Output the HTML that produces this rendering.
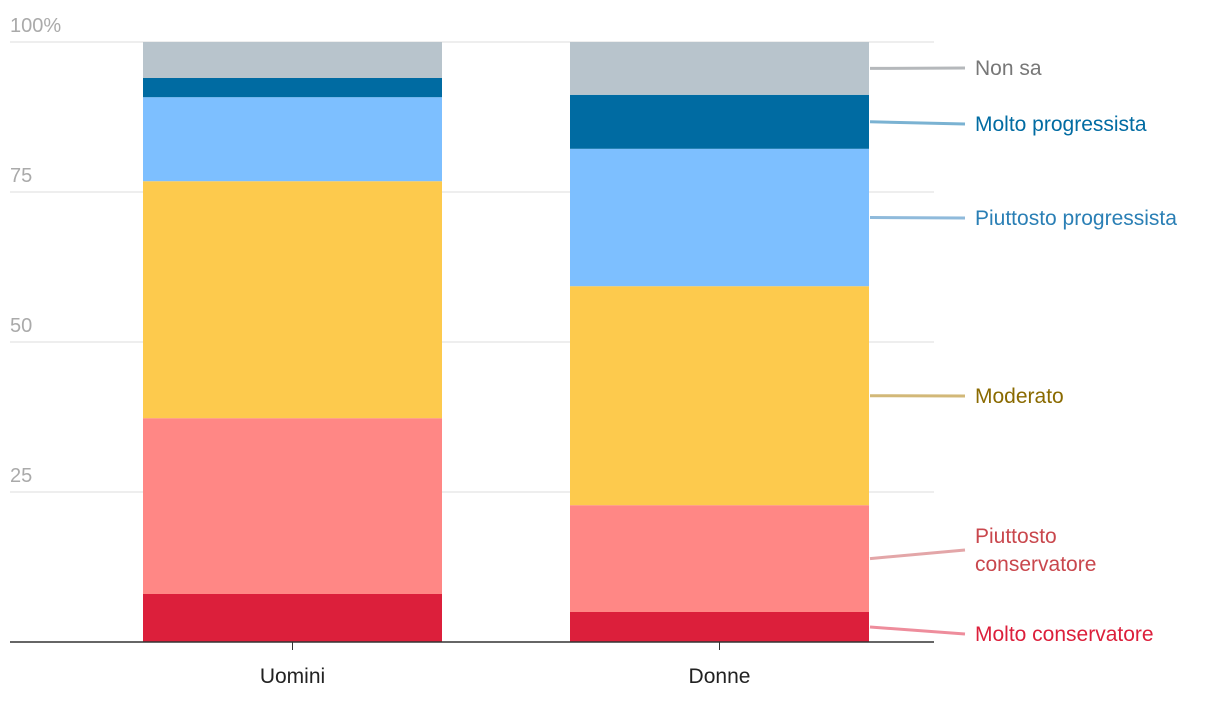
<!DOCTYPE html>
<html><head><meta charset="utf-8"><style>
body{margin:0;background:#fff;font-family:"Liberation Sans",sans-serif}
svg text{font-family:"Liberation Sans",sans-serif}
</style></head><body>
<svg id="chart" width="1220" height="706" xmlns="http://www.w3.org/2000/svg"></svg>
<script>
const categories=["Uomini","Donne"];
const seriesNames=["Molto conservatore","Piuttosto conservatore","Moderato","Piuttosto progressista","Molto progressista","Non sa"];
const molto_conservatore=[8,5];
const piuttosto_conservatore=[29.3,17.8];
const moderato=[39.5,36.5];
const piuttosto_progressista=[14,22.9];
const molto_progressista=[3.2,9];
const non_sa=[6,8.8];
const tickValues=[0,25,50,75,100];
const tickLabels=["","25","50","75","100%"];
const series=[molto_conservatore,piuttosto_conservatore,moderato,piuttosto_progressista,molto_progressista,non_sa];
const colors=["#dc1f3b","#ff8785","#fdca4d","#7dbfff","#006ba2","#b8c4cc"];
const lineColors=["#ee8d9c","#e3a6a8","#d2b878","#8fbadb","#7ab2d2","#b5b8bb"];
const labelColors=["#dc1f3b","#c9474d","#8a6a00","#2a7fb5","#006ba2","#777777"];
const labelY=[[634],[536,564],[396],[218],[124],[68]];
const svg=document.getElementById('chart');
const NS="http://www.w3.org/2000/svg";
const y=v=>642-v*6;
const barX=[143,570],barW=299;
function mk(t,a,p){const e=document.createElementNS(NS,t);for(const k in a)e.setAttribute(k,a[k]);(p||svg).appendChild(e);return e;}
tickValues.forEach((v,i)=>{
 if(v>0){const g=mk('line',{x1:10,x2:934,y1:y(v),y2:y(v),stroke:'#dddddd','stroke-width':1});
 
 }
 if(tickLabels[i]){const t=mk('text',{x:10,y:y(v)-10,fill:'#aaaaaa','font-size':20});t.textContent=tickLabels[i];
 
 }
});
categories.forEach((c,ci)=>{
 let base=0;
 series.forEach((s,si)=>{
  const v=s[ci];
  const r=mk('rect',{x:barX[ci],width:barW,y:y(base+v),height:v*6,fill:colors[si]});
  
  
  if(ci===1){
   const mid=y(base+v/2);
   const l=mk('line',{x1:870,y1:mid,x2:965,y2:labelY[si][0]+(labelY[si].length>1?14:0),stroke:lineColors[si],'stroke-width':3});
   
   
   const words=seriesNames[si]==="Piuttosto conservatore"?["Piuttosto","conservatore"]:[seriesNames[si]];
   words.forEach((w,wi)=>{
    const t=mk('text',{x:975,y:labelY[si][wi]+7,fill:labelColors[si],'font-size':21});t.textContent=w;
    
    
   });
  }
  base+=v;
 });
 const tk=mk('line',{x1:barX[ci]+barW/2,x2:barX[ci]+barW/2,y1:642,y2:650,stroke:'#333','stroke-width':1});
 
 
 const t=mk('text',{x:barX[ci]+barW/2,y:683,fill:'#222','font-size':21,'text-anchor':'middle'});t.textContent=c;
 
 
});
const ax=mk('line',{x1:10,x2:934,y1:642,y2:642,stroke:'#333','stroke-width':1.5});


</script>
</body></html>
